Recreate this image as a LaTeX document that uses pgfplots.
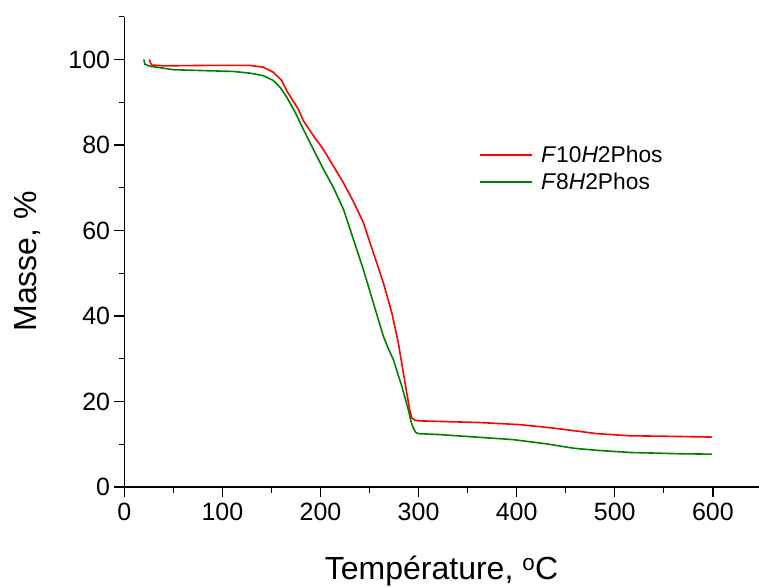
\documentclass[border=0pt]{standalone}
\usepackage{fontspec}
\setmainfont{Liberation Sans}
\usepackage{pgfplots}
\pgfplotsset{compat=1.18}
\definecolor{myred}{RGB}{255,0,0}
\definecolor{mygreen}{RGB}{0,128,0}
\begin{document}
\begin{tikzpicture}
\begin{axis}[
  scale only axis,
  width=635bp, height=470.6bp,
  xmin=0, xmax=647, ymin=0, ymax=110,
  axis lines=left,
  axis line style={-, line width=1.4bp},
  xtick={0,100,...,600}, ytick={0,20,...,100},
  minor xtick={50,150,...,550},
  minor ytick={10,30,...,110},
  tick align=outside,
  major tick length=10bp, minor tick length=5.5bp,
  every tick/.style={black, line width=1.3bp},
  tick label style={font=\fontsize{25bp}{30bp}\selectfont},
  /pgf/number format/assume math mode=true,
  yticklabel style={inner sep=4bp},
  xticklabel style={inner sep=6bp},
  xlabel={Température, \textsuperscript{o}C},
  ylabel={Masse, \%},
  label style={font=\fontsize{32bp}{38bp}\selectfont},
  xlabel style={at={(axis description cs:0.5,-0.197)}, anchor=base},
  ylabel style={at={(axis description cs:-0.1375,0.48)}, anchor=base},
  legend style={draw=none, fill=none, at={(axis description cs:0.5595,0.6775)}, anchor=west,
    font=\fontsize{22.8bp}{27bp}\selectfont, row sep=5bp, inner sep=0pt},
  legend cell align=left,
  legend image code/.code={\draw[#1] (0bp,0bp) -- (52bp,0bp); \path (58bp,0bp);},
  clip=false,
]
\addplot[myred, line width=1.6bp] coordinates {
(25.5,100) (26.5,99.3) (28,98.7) (40,98.5) (80,98.6) (128.2,98.6) (141.7,98.2)
(151.9,97.0) (160.5,95.1) (165.6,92.7) (170.7,90.8) (177.4,88.4) (182.5,85.7)
(192.7,82.2) (202.9,79.0) (213.1,75.1) (223.3,71.2) (233.5,66.8) (243.7,61.9)
(253.9,54.8) (264.1,47.8) (272.7,40.8) (279.4,33.7) (284.5,26.7) (288.6,21.2)
(291,18) (293.1,16.2) (296,15.7) (300,15.5) (330,15.3)
(362.7,15.1) (403.5,14.6) (437.5,13.8) (465,13.0) (481.7,12.5) (515.7,12.0)
(549.6,11.9) (599,11.7)
};
\addlegendentry{\textit{F}10\textit{H}2Phos}
\addplot[mygreen, line width=1.6bp] coordinates {
(20,100) (21,98.9) (26,98.4) (33,98.2) (50,97.6) (80,97.4) (111,97.2)
(128.2,96.8) (141.7,96.2) (151.9,95.1) (158.8,93.5) (165.6,91.2) (174.1,87.7)
(182.5,83.7) (192.7,79.0) (202.9,74.4) (213.1,70.1) (223.4,65.0) (233.5,58.0)
(243.7,50.9) (253.9,43.1) (264.1,35.3) (269,32.5) (274.3,29.8) (282.9,23.6)
(289.6,18.1) (292.5,15.2) (294.7,13.8) (297,12.8) (299.8,12.5) (320,12.3)
(345.7,11.9) (396.6,11.1) (430.7,10.1)
(457.8,9.1) (481.7,8.6) (515.7,8.1) (566.6,7.8) (599,7.7)
};
\addlegendentry{\textit{F}8\textit{H}2Phos}
\end{axis}
\pgfresetboundingbox
\path (-124.3bp,-100.7bp) rectangle (635bp,487.3bp);
\end{tikzpicture}
\end{document}
